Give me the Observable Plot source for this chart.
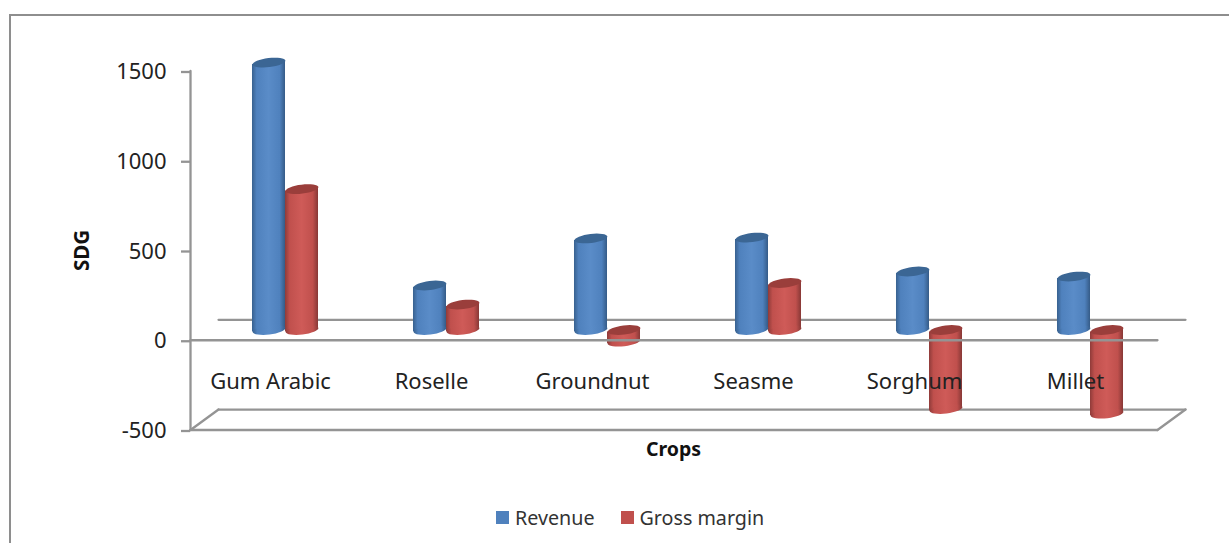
<!DOCTYPE html>
<html>
<head>
<meta charset="utf-8">
<script src="https://cdn.jsdelivr.net/npm/d3@7"></script>
<script src="https://cdn.jsdelivr.net/npm/@observablehq/plot@0.6"></script>
<style>
  html, body { margin: 0; padding: 0; background: #fff; overflow: hidden; }
  #frame { position: absolute; left: 9px; top: 14px; right: 0; bottom: 0;
           border-left: 2px solid #8e8e8e; border-top: 2px solid #8e8e8e; }
  #chart { position: absolute; left: 0; top: 0; }
  #legend { position: absolute; left: 496px; top: 504px; display: flex; gap: 26px;
            font: 19.7px "Noto Sans", sans-serif; color: #333; }
  #legend span { display: inline-flex; align-items: center; gap: 6px; }
  #legend i { display: inline-block; width: 13px; height: 13px; }
</style>
</head>
<body>
<div id="frame"></div>
<div id="chart"></div>
<div id="legend"></div>
<script>
const crops = ["Gum Arabic", "Roselle", "Groundnut", "Seasme", "Sorghum", "Millet"];
const revenue = [1490, 248, 510, 515, 326, 298];
const grossMargin = [785, 142, -65, 262, -440, -466];
const yTicks = [-500, 0, 500, 1000, 1500];
const seriesNames = ["Revenue", "Gross margin"];
const seriesColors = ["#4f81bd", "#c0504d"];
const capColors = ["#3b6694", "#9a3e3b"];

// The 3D box: columns stand halfway into a floor that recedes up and to the right.
const depthX = 0.174;
const depthY = 114;
const baseLift = depthY / 2;
const halfWidth = 0.1025;
const tilt = 11;
const leftEnd = -0.59;
const rightEnd = 5.416;
const bottom = yTicks[0];

// Tilted ellipse for the column end caps.
const capSymbol = {
  draw(ctx) {
    const n = 32, rx = 16.5, ry = 4.5, a = -7 * Math.PI / 180;
    for (let i = 0; i <= n; ++i) {
      const t = 2 * Math.PI * i / n;
      const ex = rx * Math.cos(t), ey = ry * Math.sin(t);
      const px = ex * Math.cos(a) - ey * Math.sin(a);
      const py = ex * Math.sin(a) + ey * Math.cos(a);
      i ? ctx.lineTo(px, py) : ctx.moveTo(px, py);
    }
    ctx.closePath();
  }
};

const columns = crops.flatMap((crop, i) => [
  {crop, i, s: 0, value: revenue[i], cx: i - halfWidth},
  {crop, i, s: 1, value: grossMargin[i], cx: i + halfWidth}
]);

// Each body is a sheared band between the two caps.
const bodies = columns.flatMap((c) => [-1, 1].map((side) => ({
  id: `${c.i}-${c.s}`,
  s: c.s,
  x: c.cx + side * halfWidth,
  y1: baseLift + side * tilt,
  y2: c.value + baseLift + side * tilt
})));

const defs = () => {
  const ns = "http://www.w3.org/2000/svg";
  const root = document.createElementNS(ns, "defs");
  const stops = [
    ["#38618f", "#4f81bd", "#5a8cc8", "#4f81bd", "#355b87"],
    ["#8f3b39", "#c0504d", "#cf5b58", "#c0504d", "#873836"]
  ];
  stops.forEach((colors, s) => {
    const g = document.createElementNS(ns, "linearGradient");
    g.setAttribute("id", `cyl${s}`);
    colors.forEach((c, k) => {
      const st = document.createElementNS(ns, "stop");
      st.setAttribute("offset", [0, 0.14, 0.5, 0.84, 1][k]);
      st.setAttribute("stop-color", c);
      g.appendChild(st);
    });
    root.appendChild(g);
  });
  return root;
};

const gray = "#949494";
const ln = (pts) => Plot.line(pts, {x: "0", y: "1", stroke: gray, strokeWidth: 2.3});

const chart = Plot.plot({
  width: 1229,
  height: 500,
  style: {fontFamily: "'Noto Sans', sans-serif", background: "transparent", overflow: "visible"},
  x: {type: "linear", domain: [0, 5], range: [285, 1090], axis: null},
  y: {domain: [-500, 1500], range: [429.5, 70.5], axis: null},
  marks: [
    defs,
    // back wall base and floor edges
    ln([[leftEnd + depthX, depthY], [rightEnd + depthX, depthY]]),
    ln([[leftEnd + depthX, bottom + depthY], [rightEnd + depthX, bottom + depthY]]),
    ln([[leftEnd, bottom], [leftEnd + depthX, bottom + depthY]]),
    ln([[rightEnd, bottom], [rightEnd + depthX, bottom + depthY]]),
    ln([[leftEnd, bottom], [rightEnd, bottom]]),
    // columns
    Plot.areaY(bodies, {x: "x", y1: "y1", y2: "y2", z: "id",
      fill: (d) => `url(#cyl${d.s})`, curve: "linear"}),
    Plot.dot(columns, {x: "cx", y: (d) => Math.min(d.value, 0) + baseLift, r: 1, symbol: capSymbol,
      fill: (d) => `url(#cyl${d.s})`, stroke: null}),
    Plot.dot(columns, {x: "cx", y: (d) => Math.max(d.value, 0) + baseLift, r: 1, symbol: capSymbol,
      fill: (d) => capColors[d.s], stroke: null}),
    // value axis and zero line sit in front of the columns
    ln([[leftEnd, bottom], [leftEnd, yTicks[yTicks.length - 1]]]),
    ln([[leftEnd, 0], [rightEnd, 0]]),
    Plot.axisY({x: leftEnd, ticks: yTicks, tickSize: 9, tickPadding: 15, stroke: gray,
      strokeWidth: 2.3, fontSize: 22, fill: "#222", label: null, dy: 1, tickFormat: (d) => String(d)}),
    Plot.text(crops, {x: (d, i) => i - 0.093, y: () => -232, text: (d) => d,
      fontSize: 22, fill: "#222"}),
    Plot.text(["Crops"], {x: () => 2.41, y: () => -612, text: (d) => d,
      fontSize: 19.5, fontWeight: "bold", fill: "#111"}),
    Plot.text(["SDG"], {x: () => -1.26, y: () => 500, text: (d) => d, rotate: -90,
      fontSize: 20.5, fontWeight: "bold", fill: "#111"})
  ]
});
document.getElementById("chart").appendChild(chart);

// Swatch legend below the chart.
const legend = d3.select("#legend");
seriesNames.forEach((name, i) => {
  const item = legend.append("span");
  item.append("i").style("background", seriesColors[i]);
  item.append("b").style("font-weight", "normal").text(name);
});
</script>
</body>
</html>
